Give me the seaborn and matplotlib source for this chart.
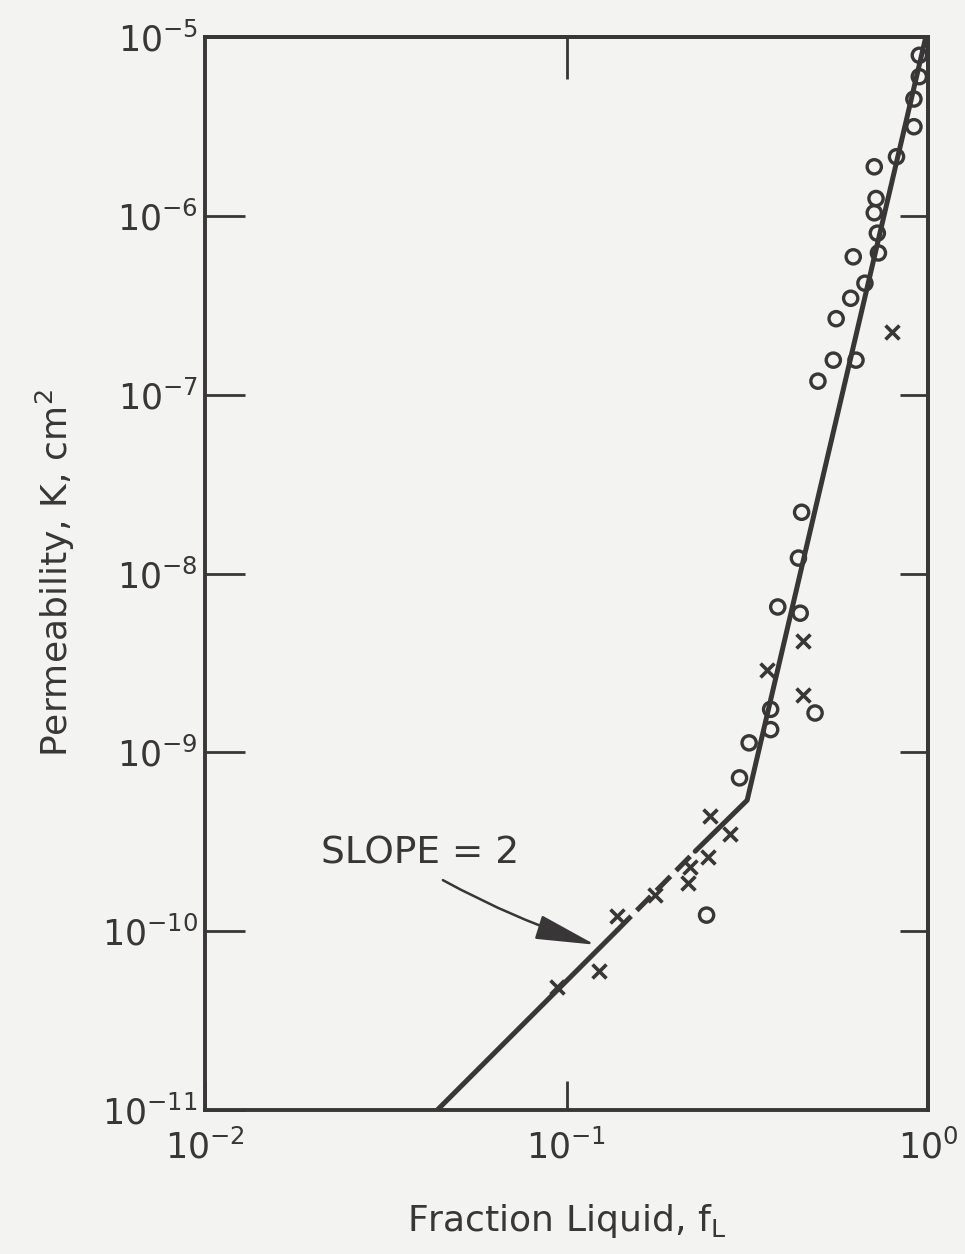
import matplotlib
matplotlib.use("Agg")
import matplotlib.pyplot as plt
import numpy as np
import pandas as pd
import seaborn as sns

sns.set_style("ticks")
plt.rcParams['font.family'] = ['DejaVu Sans']
plt.rcParams['mathtext.default'] = 'regular'

ink = '#383636'
paper = '#f3f3f1'

# open circles
circle_fl = [0.946, 0.946, 0.914, 0.914, 0.818, 0.710, 0.718, 0.710, 0.724, 0.729,
             0.621, 0.669, 0.611, 0.557, 0.547, 0.632, 0.496, 0.447, 0.438, 0.384,
             0.443, 0.367, 0.367, 0.320, 0.487, 0.301, 0.244]
circle_k = [7.9e-6, 6.0e-6, 4.5e-6, 3.15e-6, 2.14e-6, 1.88e-6, 1.25e-6, 1.04e-6, 8.0e-7, 6.2e-7,
            5.9e-7, 4.2e-7, 3.46e-7, 2.66e-7, 1.56e-7, 1.56e-7, 1.19e-7, 2.2e-8, 1.22e-8, 6.5e-9,
            6.0e-9, 1.74e-9, 1.34e-9, 1.13e-9, 1.66e-9, 7.2e-10, 1.23e-10]

# crosses
cross_fl = [0.794, 0.450, 0.359, 0.452, 0.249, 0.283, 0.247, 0.219, 0.217, 0.176, 0.138, 0.123, 0.094]
cross_k = [2.25e-7, 4.2e-9, 2.9e-9, 2.1e-9, 4.4e-10, 3.5e-10, 2.6e-10, 2.3e-10, 1.85e-10,
           1.6e-10, 1.21e-10, 6.0e-11, 4.9e-11]

# hand drawn fit line (solid / dashed / solid pieces)
low_fl = [0.0439, 0.138]
low_k = [1.0e-11, 1.01e-10]
mid_fl = [0.138, 0.227]
mid_k = [1.01e-10, 2.8e-10]
high_fl = [0.227, 0.316, 0.986]
high_k = [2.8e-10, 5.4e-10, 1.0e-5]

fig = plt.figure(figsize=(9.65, 12.54), dpi=100, facecolor=paper)
ax = fig.add_axes([0.2124, 0.1148, 0.7493, 0.8557])
ax.set_facecolor(paper)

lw_fit = 3.6
sns.lineplot(x=low_fl, y=low_k, ax=ax, color=ink, lw=lw_fit, sort=False, estimator=None)
sns.lineplot(x=mid_fl, y=mid_k, ax=ax, color=ink, lw=lw_fit, sort=False, estimator=None,
             dashes=False)
ax.lines[-1].set_dashes((4, 1.6))
sns.lineplot(x=high_fl, y=high_k, ax=ax, color=ink, lw=lw_fit, sort=False, estimator=None)

sns.scatterplot(x=circle_fl, y=circle_k, ax=ax, marker='o', s=105, facecolor='none',
                edgecolor=ink, linewidth=2.4, zorder=4)
sns.scatterplot(x=cross_fl, y=cross_k, ax=ax, marker='x', s=100, color=ink,
                linewidth=2.6, zorder=4)

ax.set_xscale('log')
ax.set_yscale('log')
ax.set_xlim(1e-2, 1e0)
ax.set_ylim(1e-11, 1e-5)
ax.set_xticks([1e-2, 1e-1, 1e0])
ax.set_yticks([10.0 ** e for e in range(-11, -4)])
ax.minorticks_off()

for s in ax.spines.values():
    s.set_linewidth(2.8)
    s.set_color(ink)

ax.tick_params(axis='y', direction='in', length=29, width=2.0, color=ink,
               labelsize=25, labelcolor=ink, pad=5)
ax.tick_params(axis='x', direction='in', length=21, width=2.0, color=ink,
               labelsize=25, labelcolor=ink, pad=14)

# right and top ticks (different lengths from left/bottom)
ax_r = ax.secondary_yaxis('right')
ax_r.set_yticks([10.0 ** e for e in range(-10, -5)])
ax_r.tick_params(direction='in', length=20, width=2.0, color=ink, labelright=False)
ax_r.yaxis.set_minor_locator(matplotlib.ticker.NullLocator())
ax_r.spines['right'].set_linewidth(2.8)
ax_r.spines['right'].set_color(ink)
ax_t = ax.secondary_xaxis('top')
ax_t.set_xticks([1e-1])
ax_t.tick_params(direction='in', length=30, width=2.0, color=ink, labeltop=False)
ax_t.xaxis.set_minor_locator(matplotlib.ticker.NullLocator())
ax_t.spines['top'].set_linewidth(2.8)
ax_t.spines['top'].set_color(ink)

ax.set_xlabel('Fraction Liquid, f$_L$', fontsize=26, color=ink, labelpad=26)
ax.set_ylabel('Permeability, K, cm$^2$', fontsize=26, color=ink, labelpad=18)

ax.text(0.0394, 2.73e-10, 'SLOPE = 2', fontsize=27, color=ink, ha='center', va='center')
ax.annotate('', xy=(0.12, 8.4e-11), xytext=(0.0455, 1.93e-10),
            arrowprops=dict(arrowstyle='-|>,head_length=1.7,head_width=0.35',
                            mutation_scale=22, color=ink, lw=1.8,
                            connectionstyle='arc3,rad=0.05', shrinkA=0, shrinkB=0))

fig.savefig('out.png', dpi=100, facecolor=paper)
